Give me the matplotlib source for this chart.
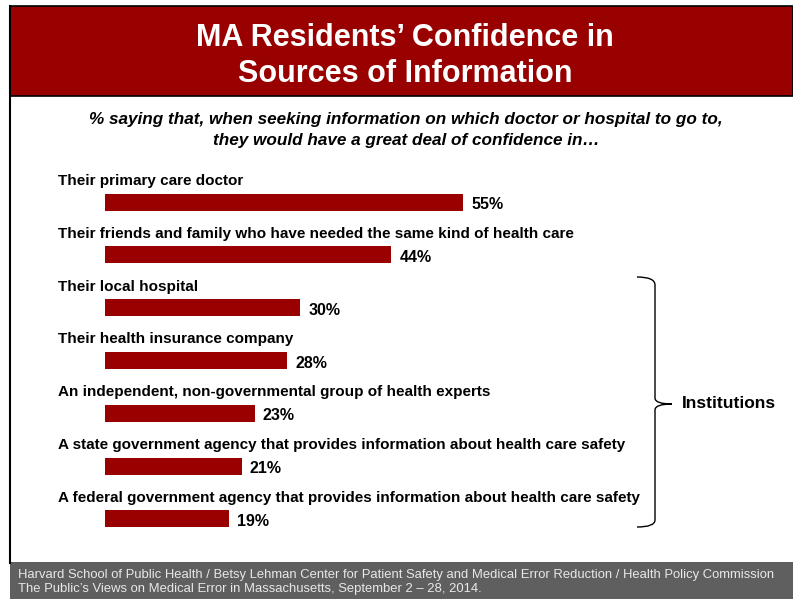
import matplotlib.pyplot as plt
from matplotlib.path import Path
from matplotlib.patches import PathPatch, Rectangle

plt.rcParams['font.family'] = ['Liberation Sans', 'DejaVu Sans']

categories = [
    "Their primary care doctor",
    "Their friends and family who have needed the same kind of health care",
    "Their local hospital",
    "Their health insurance company",
    "An independent, non-governmental group of health experts",
    "A state government agency that provides information about health care safety",
    "A federal government agency that provides information about health care safety",
]
values = [55, 44, 30, 28, 23, 21, 19]
value_labels = ["55%", "44%", "30%", "28%", "23%", "21%", "19%"]

title = "MA Residents\u2019 Confidence in\nSources of Information"
subtitle = ("% saying that, when seeking information on which doctor or hospital to go to,\n"
            "they would have a great deal of confidence in\u2026")
footer = ("Harvard School of Public Health / Betsy Lehman Center for Patient Safety and Medical Error Reduction / Health Policy Commission\n"
          "The Public\u2019s Views on Medical Error in Massachusetts, September 2 \u2013 28, 2014.")
group_label = "Institutions"

W, H = 793, 599
red = '#990000'
fig = plt.figure(figsize=(W / 100, H / 100), dpi=100)

# background and decorations, in pixels
bg = fig.add_axes([0, 0, 1, 1])
bg.set_xlim(0, W)
bg.set_ylim(H, 0)
bg.axis('off')

bg.add_patch(Rectangle((10, 6), W - 10, 90, facecolor=red, edgecolor='black', lw=1.2))
bg.plot([10, 10], [6, 563], color='black', lw=1.5)
bg.add_patch(Rectangle((10, 562), W - 10, 37, facecolor='#5f5f5f', edgecolor='none'))

bg.text(405, 56, title, color='white', fontsize=22, fontweight='bold',
        ha='center', va='center', linespacing=1.3)
bg.text(406, 130, subtitle, color='black', fontsize=12.3, fontweight='bold',
        fontstyle='italic', ha='center', va='center', linespacing=1.45)
bg.text(18, 582, footer, color='#e8e8e8', fontsize=9.4, ha='left', va='center',
        linespacing=1.3)

# brace for the institutions group
verts = [(637, 277), (655, 277), (655, 285), (655, 285),
         (655, 398), (655, 398), (655, 404), (672, 404),
         (655, 404), (655, 410), (655, 410), (655, 410),
         (655, 520), (655, 520), (655, 527), (637, 527)]
codes = [Path.MOVETO, Path.CURVE3, Path.CURVE3, Path.LINETO,
         Path.LINETO, Path.LINETO, Path.CURVE3, Path.CURVE3,
         Path.CURVE3, Path.CURVE3, Path.LINETO, Path.LINETO,
         Path.LINETO, Path.LINETO, Path.CURVE3, Path.CURVE3]
bg.add_patch(PathPatch(Path(verts, codes), facecolor='none', edgecolor='black', lw=1))
bg.text(682, 404, group_label, fontsize=12.5, fontweight='bold', ha='left', va='center')

# bars
px_per = 6.51
step = 52.83
left, top = 105, 202 - step / 2
ax = fig.add_axes([left / W, 1 - (top + 7 * step) / H, 100 * px_per / W, 7 * step / H])
ax.patch.set_alpha(0)
ax.set_xlim(0, 100)
ax.set_ylim(6.5, -0.5)
ax.axis('off')

pos = list(range(len(values)))
ax.barh(pos, values, height=17 / step, color=red)
for i, (cat, v, lab) in enumerate(zip(categories, values, value_labels)):
    ax.text(-47 / px_per, i - 21 / step, cat, fontsize=11, fontweight='bold',
            ha='left', va='center', clip_on=False)
    ax.text(v + 8 / px_per, i + 0.05, lab, fontsize=11.5, fontweight='bold',
            ha='left', va='center')

fig.savefig('out.png', dpi=100)
